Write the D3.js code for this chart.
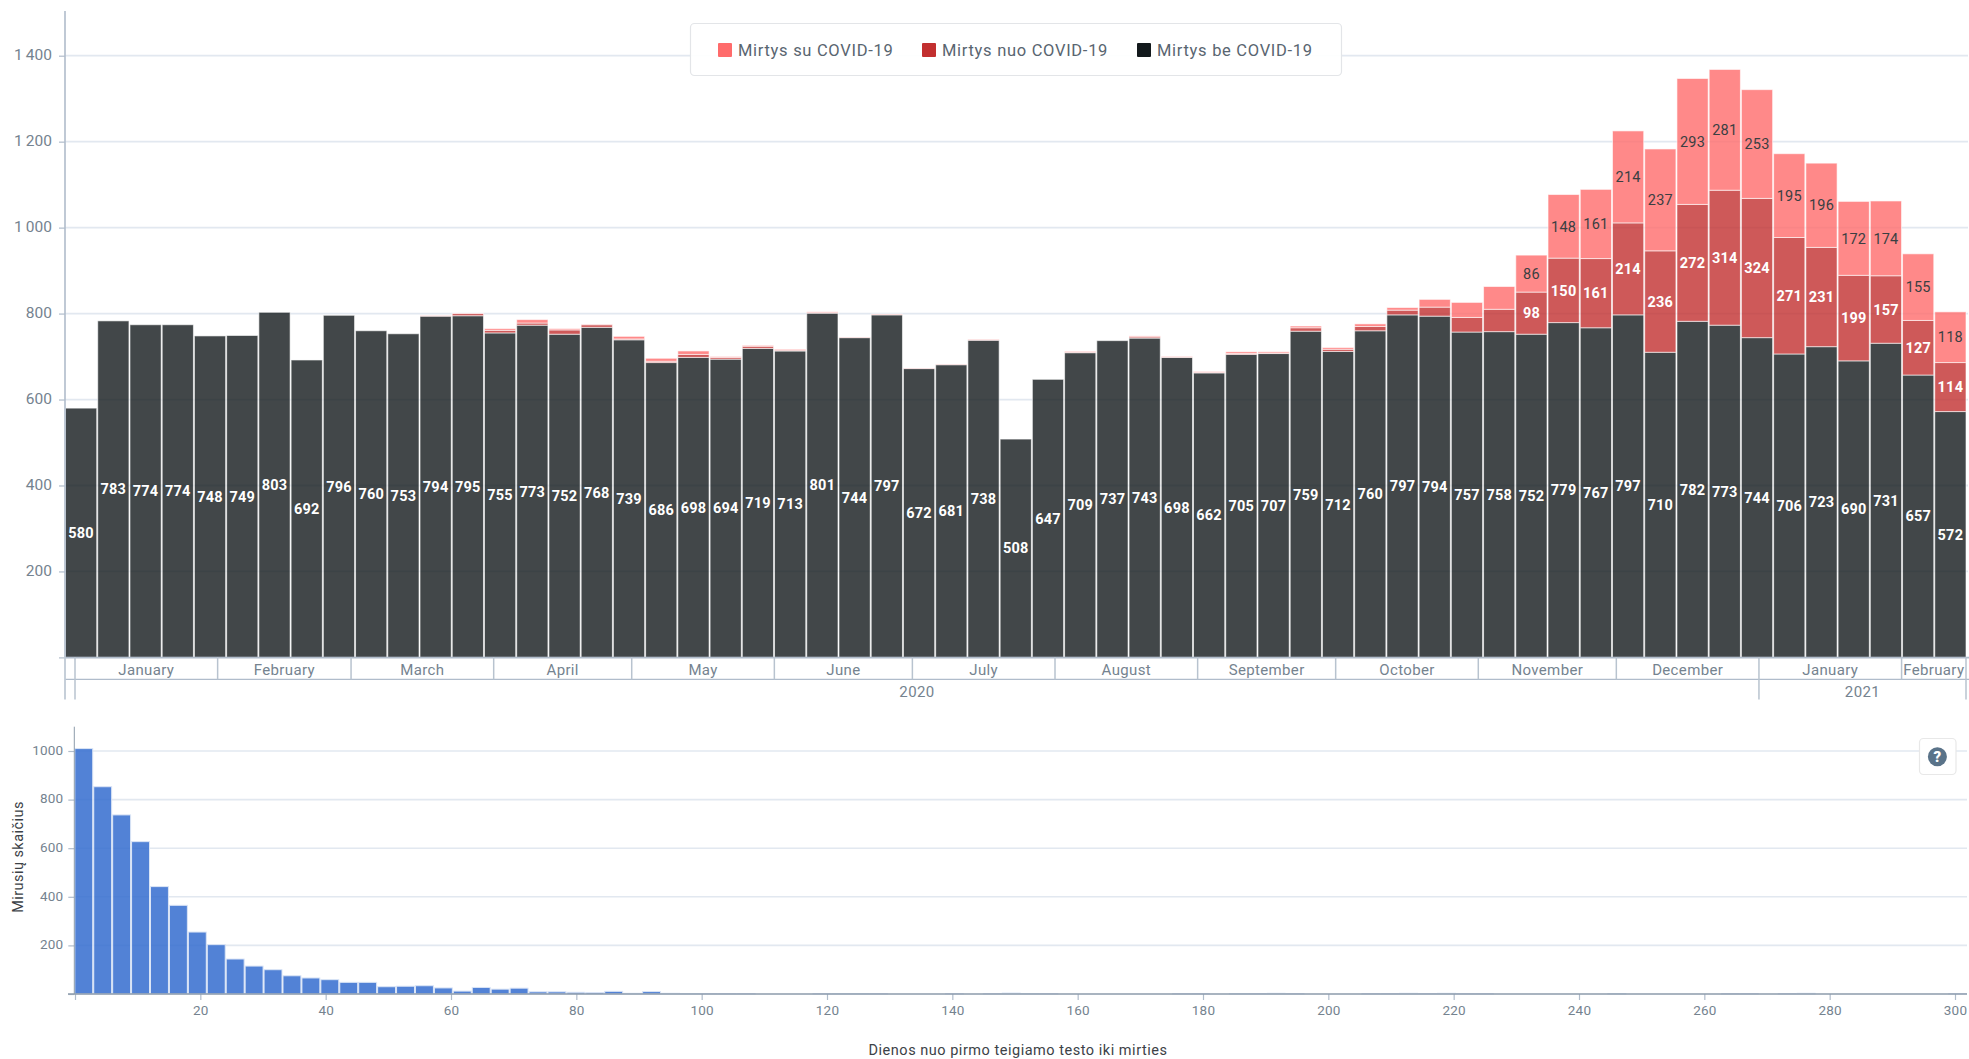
<!DOCTYPE html>
<html>
<head>
<meta charset="utf-8">
<script src="https://cdn.jsdelivr.net/npm/d3@7/dist/d3.min.js"></script>
<style>
html,body{margin:0;padding:0;background:#fff;overflow:hidden}
svg{display:block}
text{font-family:Roboto,"Noto Sans",sans-serif}
</style>
</head>
<body>
<svg id="chart" width="1969" height="1059"></svg>
<script>
const withoutCovid=[580,783,774,774,748,749,803,692,796,760,753,794,795,755,773,752,768,739,686,698,694,719,713,801,744,797,672,681,738,508,647,709,737,743,698,662,705,707,759,712,760,797,794,757,758,752,779,767,797,710,782,773,744,706,723,690,731,657,572];
const fromCovid=[0,0,0,0,0,0,0,0,0,0,0,0,5,6,5,10,6,2,3,7,4,5,2,1,0,1,0,0,1,0,0,1,0,3,1,1,2,1,8,5,10,11,21,34,52,98,150,161,214,236,272,314,324,271,231,199,157,127,114];
const withCovid=[0,0,0,0,0,0,0,0,0,0,0,1,1,4,8,3,1,6,7,8,2,2,2,2,1,1,1,1,1,0,0,2,0,2,1,2,4,3,4,4,6,6,18,35,53,86,148,161,214,237,293,281,253,195,196,172,174,155,118];
const yTicksMain=[0,200,400,600,800,1000,1200,1400];
const monthNames=["January","February","March","April","May","June","July","August","September","October","November","December","January","February"];
const yearNames=["2020","2021"];
const legendLabels=["Mirtys su COVID-19","Mirtys nuo COVID-19","Mirtys be COVID-19"];
const histValues=[1010,853,737,627,442,365,255,203,144,115,100,75,66,59,48,48,30,32,34,25,12,27,20,24,9,9,7,6,11,3,10,3,2,1,1,1,0,0,0,1,2,2,1,0,0,0,1,0,1,4,2,1,0,0,0,0,0,0,1,1,0,2,1,3,1,0,0,0,1,1,3,1,3,1,1,0,0,0,0,0,0,2,0,0,0,0,0,1,1,0,1,3,0,0,0,0,0,0,0,1];
const histYTicks=[0,200,400,600,800,1000];
const histXTicks=[0,20,40,60,80,100,120,140,160,180,200,220,240,260,280,300];

const svg=d3.select("#chart");
const AXIS="#8c9bab", TEXT="#75838f", GRID="#e2e8f0", LINE="#b0bccb";
const COL={pink:"#ff6b6b",red:"#c22f2f",dark:"#13191c"};

/* ---------- main chart ---------- */
const y=d3.scaleLinear().domain([0,1400]).range([657.4,55.7]);
const x=d3.scaleBand().domain(d3.range(withoutCovid.length)).range([65,1966.5]);
const gMain=svg.append("g");

gMain.append("g").selectAll("line").data(yTicksMain.slice(1)).join("line")
  .attr("x1",65).attr("x2",1968).attr("y1",d=>y(d)).attr("y2",d=>y(d))
  .attr("stroke",GRID).attr("stroke-width",1.8);

const stacked=d3.stack().keys(["dark","red","pink"])(withoutCovid.map((v,i)=>({dark:v,red:fromCovid[i],pink:withCovid[i]})));
const barG=gMain.append("g").selectAll("g").data(stacked).join("g")
  .attr("fill",d=>COL[d.key]).attr("fill-opacity",0.8);
barG.selectAll("rect").data(d=>d.map((s,i)=>({s,i}))).join("rect")
  .attr("x",d=>x(d.i)+0.5).attr("width",x.bandwidth()-1)
  .attr("y",d=>y(d.s[1])).attr("height",d=>Math.max(0,y(d.s[0])-y(d.s[1])))
  .attr("stroke","#fff").attr("stroke-opacity",0.6).attr("stroke-width",1);

const labelG=gMain.append("g");
stacked.forEach(layer=>{
  layer.forEach((s,i)=>{
    const v=s[1]-s[0];
    if(v<60) return;
    labelG.append("text")
      .attr("x",x(i)+x.bandwidth()/2).attr("y",y((s[0]+s[1])/2))
      .attr("dy","0.36em").attr("text-anchor","middle")
      .attr("font-size",14.5).attr("letter-spacing",0.2)
      .attr("font-weight",layer.key==="pink"?400:700)
      .attr("fill",layer.key==="pink"?"#3a3f42":"#fff")
      .text(v);
  });
});

const yAxis=d3.axisLeft(y).tickValues(yTicksMain).tickSize(6).tickPadding(7)
  .tickFormat(d=>d===0?"":d3.format(",")(d).replace(",","\u2009"));
const yAxisG=gMain.append("g").attr("transform","translate(65,0)").call(yAxis);
yAxisG.select(".domain").remove();
yAxisG.selectAll(".tick line").attr("stroke",LINE).attr("stroke-width",1.2);
yAxisG.selectAll("text").attr("fill",TEXT).attr("font-size",15.5).attr("font-family","Roboto").attr("dy","0.25em");
gMain.append("line").attr("x1",65).attr("x2",65).attr("y1",11).attr("y2",657.4).attr("stroke",LINE).attr("stroke-width",1.6);

/* multi level date axis */
const xTime=d3.scaleTime().domain([new Date(2020,0,1),new Date(2021,1,15)]).range([75,1966]);
const monthStarts=monthNames.map((_,i)=>new Date(2020,i,1));
monthStarts.push(new Date(2021,1,15));
const yearStarts=[new Date(2020,0,1),new Date(2021,0,1),new Date(2021,1,15)];
const ax=svg.append("g");
ax.append("line").attr("x1",65).attr("x2",1969).attr("y1",657.6).attr("y2",657.6).attr("stroke",LINE).attr("stroke-width",1.6);
ax.append("line").attr("x1",65).attr("x2",1969).attr("y1",679.4).attr("y2",679.4).attr("stroke",LINE).attr("stroke-width",1.4);
ax.append("line").attr("x1",65).attr("x2",65).attr("y1",657).attr("y2",699.5).attr("stroke","#c0cad5").attr("stroke-width",1.8);
ax.selectAll(".m").data(monthStarts).join("line").attr("class","m")
  .attr("x1",d=>xTime(d)).attr("x2",d=>xTime(d)).attr("y1",657).attr("y2",679.4)
  .attr("stroke","#b8c3cf").attr("stroke-width",1.5);
ax.selectAll(".y").data(yearStarts).join("line").attr("class","y")
  .attr("x1",d=>xTime(d)).attr("x2",d=>xTime(d)).attr("y1",679).attr("y2",699.5)
  .attr("stroke","#b8c3cf").attr("stroke-width",1.5);
ax.selectAll(".ml").data(monthNames).join("text").attr("class","ml")
  .attr("x",(d,i)=>(xTime(monthStarts[i])+xTime(monthStarts[i+1]))/2).attr("y",669.7)
  .attr("dy","0.36em").attr("text-anchor","middle").attr("font-size",15).attr("letter-spacing",0.35)
  .attr("fill",TEXT).text(d=>d);
ax.selectAll(".yl").data(yearNames).join("text").attr("class","yl")
  .attr("x",(d,i)=>(xTime(yearStarts[i])+xTime(yearStarts[i+1]))/2).attr("y",691.5)
  .attr("dy","0.36em").attr("text-anchor","middle").attr("font-size",15).attr("letter-spacing",0.4)
  .attr("fill",TEXT).text(d=>d);

/* legend */
const lg=svg.append("g");
lg.append("rect").attr("x",690.5).attr("y",23.5).attr("width",651).attr("height",52).attr("rx",4)
  .attr("fill","#fff").attr("fill-opacity",0.93).attr("stroke","#e3e5e8").attr("stroke-width",1.2);
const swatchX=d3.scaleOrdinal().domain(legendLabels).range([718,922,1137]);
const legendCols=[COL.pink,COL.red,COL.dark];
legendLabels.forEach((t,i)=>{
  lg.append("rect").attr("x",swatchX(t)).attr("y",43).attr("width",14).attr("height",14).attr("rx",1).attr("fill",legendCols[i]);
  lg.append("text").attr("x",swatchX(t)+20).attr("y",50).attr("dy","0.36em").attr("font-size",16.5).attr("letter-spacing",0.7).attr("fill","#596570").text(t);
});

/* ---------- histogram ---------- */
const hy=d3.scaleLinear().domain([0,1000]).range([994,751]);
const hxBand=d3.scaleBand().domain(d3.range(histValues.length)).range([74.3,1967]);
const hx=d3.scaleLinear().domain([0,300]).range([75,1955]);
const gH=svg.append("g");
gH.append("g").selectAll("line").data(histYTicks.slice(1)).join("line")
  .attr("x1",74.3).attr("x2",1967).attr("y1",d=>hy(d)).attr("y2",d=>hy(d))
  .attr("stroke",GRID).attr("stroke-width",1.6);
gH.append("g").selectAll("rect").data(histValues).join("rect")
  .attr("x",(d,i)=>hxBand(i)+0.5).attr("width",hxBand.bandwidth()-1)
  .attr("y",d=>hy(d)).attr("height",d=>994-hy(d))
  .attr("fill","#346ccf").attr("fill-opacity",d=>d>0?0.85:0)
  .attr("stroke",d=>d>0?"#dbe5f6":"none").attr("stroke-width",1);

const hyAxis=d3.axisLeft(hy).tickValues(histYTicks).tickSize(6).tickPadding(5).tickFormat(d=>d===0?"":d);
const hyG=gH.append("g").attr("transform","translate(74.3,0)").call(hyAxis);
hyG.select(".domain").remove();
hyG.selectAll(".tick line").attr("stroke",LINE).attr("stroke-width",1.2);
hyG.selectAll("text").attr("fill",TEXT).attr("font-size",13.5).attr("font-family","Roboto").attr("letter-spacing",0.2).attr("dy","0.25em");
gH.append("line").attr("x1",74.3).attr("x2",74.3).attr("y1",726.7).attr("y2",994).attr("stroke",AXIS).attr("stroke-width",1);

const hxAxis=d3.axisBottom(hx).tickValues(histXTicks).tickSize(6).tickPadding(5).tickFormat(d=>d===0?"":d);
const hxG=gH.append("g").attr("transform","translate(0,994)").call(hxAxis);
hxG.select(".domain").remove();
hxG.selectAll(".tick line").attr("stroke",LINE).attr("stroke-width",1.2);
hxG.selectAll("text").attr("fill",TEXT).attr("font-size",13.5).attr("font-family","Roboto").attr("letter-spacing",0.2);
gH.append("line").attr("x1",68).attr("x2",1967).attr("y1",994).attr("y2",994).attr("stroke",AXIS).attr("stroke-width",1.3);

gH.append("text").attr("x",1018).attr("y",1050).attr("dy","0.36em").attr("text-anchor","middle")
  .attr("font-size",14.5).attr("letter-spacing",0.52).attr("fill","#3c4247").text("Dienos nuo pirmo teigiamo testo iki mirties");
gH.append("text").attr("transform","translate(18,857) rotate(-90)").attr("dy","0.36em").attr("text-anchor","middle")
  .attr("font-size",14.5).attr("letter-spacing",0.45).attr("fill","#3c4247").text("Mirusių skaičius");

/* help button */
const hb=svg.append("g");
hb.append("rect").attr("x",1919.5).attr("y",738.5).attr("width",36.5).attr("height",36).attr("rx",4)
  .attr("fill","#fff").attr("stroke","#e8e8e8").attr("stroke-width",1.2);
hb.append("circle").attr("cx",1937.4).attr("cy",756.7).attr("r",9.5).attr("fill","#5a7389");
hb.append("text").attr("x",1937.4).attr("y",756.9).attr("dy","0.36em").attr("text-anchor","middle")
  .attr("font-size",15).attr("font-weight",900).attr("fill","#fff").text("?");
</script>
</body>
</html>
